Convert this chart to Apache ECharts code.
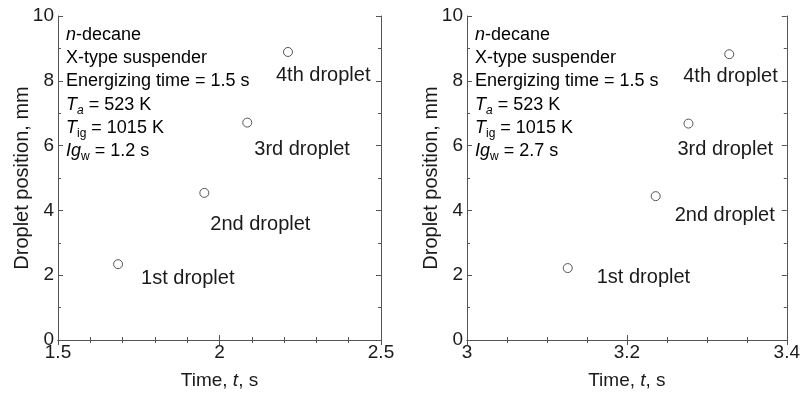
<!DOCTYPE html>
<html>
<head>
<meta charset="utf-8">
<script src="https://cdn.jsdelivr.net/npm/echarts@6/dist/echarts.min.js"></script>
<style>
  html, body { margin: 0; padding: 0; background: #fff; }
  #main { width: 803px; height: 396px; }
</style>
</head>
<body>
<div id="main"></div>
<script>
'use strict';

// droplet positions
var dropletNames = ['1st droplet', '2nd droplet', '3rd droplet', '4th droplet'];
var leftTime = [1.686, 1.953, 2.086, 2.212];
var leftPos = [2.34, 4.54, 6.71, 8.89];
var rightTime = [3.126, 3.236, 3.277, 3.328];
var rightPos = [2.22, 4.44, 6.68, 8.82];
var leftIgw = '1.2';
var rightIgw = '2.7';

// label offsets (px) next to each circle
var leftOffsets = [[13, 14], [-4, 32], [-3, 27], [-22, 24]];
var rightOffsets = [[19, 9], [9, 19], [-21, 26], [-56, 22]];

var FONT = 'Liberation Sans, Arial, sans-serif';
var TXT = '#1a1a1a';
var LINE = '#555';

var chart = echarts.init(document.getElementById('main'));

function xAxes(idx, min, max, interval, minorSplit) {
    var base = {
        gridIndex: idx,
        type: 'value',
        min: min,
        max: max,
        interval: interval,
        splitLine: { show: false },
        axisLine: { lineStyle: { color: LINE, width: 1 } },
        axisTick: { inside: true, length: 5, lineStyle: { color: LINE } },
        minorTick: { show: true, splitNumber: minorSplit, length: 3, lineStyle: { color: LINE } }
    };
    var bottom = Object.assign({}, base, {
        position: 'bottom',
        axisLabel: { fontSize: 19, color: TXT, fontFamily: FONT, margin: 3 },
        name: 'Time, {it|t}, s',
        nameLocation: 'middle',
        nameGap: 31,
        nameMoveOverlap: false,
        nameTextStyle: {
            fontSize: 19, color: TXT, fontFamily: FONT,
            rich: { it: { fontSize: 19, fontStyle: 'italic', color: TXT, fontFamily: FONT } }
        }
    });
    var top = Object.assign({}, base, {
        position: 'top',
        axisLabel: { show: false }
    });
    return [bottom, top];
}

function yAxes(idx) {
    var base = {
        gridIndex: idx,
        type: 'value',
        min: 0,
        max: 10,
        interval: 2,
        splitLine: { show: false },
        axisLine: { lineStyle: { color: LINE, width: 1 } },
        axisTick: { inside: true, length: 5, lineStyle: { color: LINE } },
        minorTick: { show: true, splitNumber: 2, length: 3, lineStyle: { color: LINE } }
    };
    var left = Object.assign({}, base, {
        position: 'left',
        axisLabel: { fontSize: 19, color: TXT, fontFamily: FONT, margin: 4 },
        name: 'Droplet position, mm',
        nameLocation: 'middle',
        nameGap: 26,
        nameMoveOverlap: false,
        nameTextStyle: { fontSize: 20, color: TXT, fontFamily: FONT }
    });
    var right = Object.assign({}, base, {
        position: 'right',
        axisLabel: { show: false }
    });
    return [left, right];
}

function dropletSeries(idx, times, pos, offsets) {
    var pts = times.map(function (t, i) {
        return {
            value: [t, pos[i]],
            name: dropletNames[i],
            label: { offset: offsets[i], color: TXT }
        };
    });
    return {
        type: 'scatter',
        xAxisIndex: idx * 2,
        yAxisIndex: idx * 2,
        symbol: 'circle',
        symbolSize: 9,
        itemStyle: { color: '#fff', borderColor: LINE, borderWidth: 1, opacity: 1 },
        label: {
            show: true,
            position: 'right',
            distance: 5,
            formatter: '{b}',
            fontSize: 20,
            color: TXT,
            opacity: 1,
            fontFamily: FONT
        },
        emphasis: { disabled: true },
        data: pts
    };
}

var LH = 23.2;
var rich = {
    n: { fontSize: 18, color: TXT, fontFamily: FONT, lineHeight: LH },
    it: { fontSize: 18, color: TXT, fontFamily: FONT, fontStyle: 'italic', lineHeight: LH },
    sub: { fontSize: 12, color: TXT, fontFamily: FONT, lineHeight: LH, verticalAlign: 'bottom' },
    subit: { fontSize: 12, color: TXT, fontFamily: FONT, fontStyle: 'italic', lineHeight: LH, verticalAlign: 'bottom' }
};

function infoText(igw) {
    return [
        '{it|n}{n|-decane}',
        '{n|X-type suspender}',
        '{n|Energizing time = 1.5 s}',
        '{it|T}{subit|a}{n| = 523 K}',
        '{it|T}{sub|ig}{n| = 1015 K}',
        '{it|Ig}{sub|w}{n| = ' + igw + ' s}'
    ].join('\n');
}

var option = {
    backgroundColor: '#fff',
    animation: false,
    grid: [
        { left: 58, top: 16, width: 323, height: 324 },
        { left: 467, top: 16, width: 322, height: 324 }
    ],
    xAxis: xAxes(0, 1.5, 2.5, 0.5, 5).concat(xAxes(1, 3, 3.4, 0.2, 4)),
    yAxis: yAxes(0).concat(yAxes(1)),
    graphic: [
        { type: 'text', left: 66, top: 26, style: { text: infoText(leftIgw), rich: rich } },
        { type: 'text', left: 475, top: 26, style: { text: infoText(rightIgw), rich: rich } }
    ],
    series: [
        dropletSeries(0, leftTime, leftPos, leftOffsets),
        dropletSeries(1, rightTime, rightPos, rightOffsets)
    ]
};

chart.setOption(option);
</script>
</body>
</html>
